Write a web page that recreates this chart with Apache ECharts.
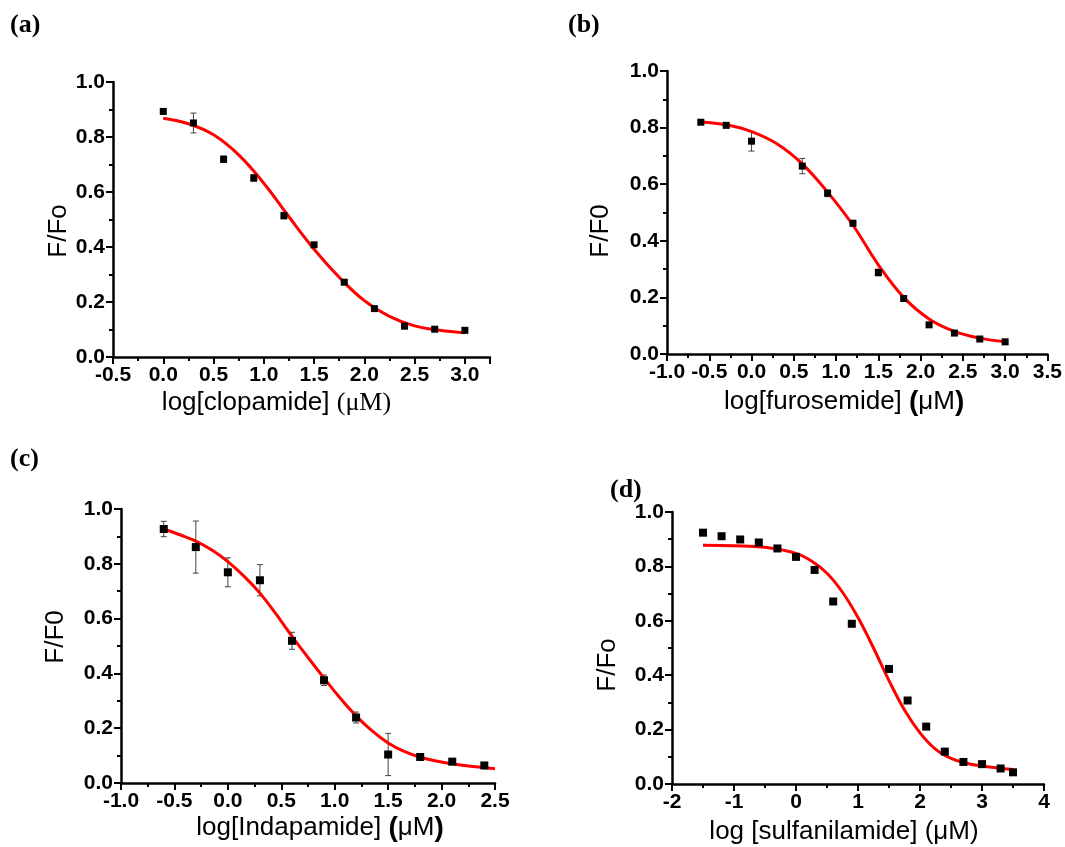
<!DOCTYPE html>
<html>
<head>
<meta charset="utf-8">
<title>F/F0 dose-response curves</title>
<script src="https://cdn.jsdelivr.net/npm/echarts@6/dist/echarts.min.js"></script>
<style>
  html, body { margin: 0; padding: 0; background: #fff; }
  #chart { width: 1065px; height: 847px; }
</style>
</head>
<body>
<div id="chart"></div>
<script>
// (a) clopamide
const clopX = [0, 0.3, 0.6, 0.9, 1.2, 1.5, 1.8, 2.1, 2.4, 2.7, 3.0];
const clopY = [0.893, 0.851, 0.719, 0.651, 0.514, 0.408, 0.272, 0.176, 0.112, 0.101, 0.097];
const clopErr = [0.008, 0.036, 0.012, 0.012, 0.012, 0.008, 0.006, 0.006, 0.005, 0.005, 0.005];
const clopFitX = [0, 0.25, 0.5, 0.75, 1.0, 1.25, 1.5, 1.75, 2.0, 2.25, 2.5, 2.75, 3.0];
const clopFitY = [0.868, 0.848, 0.808, 0.735, 0.632, 0.51, 0.392, 0.29, 0.205, 0.148, 0.113, 0.097, 0.088];

// (b) furosemide
const furoX = [-0.6, -0.3, 0, 0.6, 0.9, 1.2, 1.5, 1.8, 2.1, 2.4, 2.7, 3.0];
const furoY = [0.819, 0.808, 0.752, 0.664, 0.568, 0.462, 0.288, 0.196, 0.103, 0.074, 0.053, 0.043];
const furoErr = [0.006, 0.008, 0.035, 0.027, 0.012, 0.01, 0.012, 0.008, 0.006, 0.006, 0.005, 0.005];
const furoFitX = [-0.6, -0.3, 0, 0.3, 0.6, 0.9, 1.2, 1.5, 1.8, 2.1, 2.4, 2.7, 3.0];
const furoFitY = [0.82, 0.81, 0.786, 0.743, 0.672, 0.572, 0.455, 0.315, 0.2, 0.124, 0.08, 0.056, 0.043];

// (c) indapamide
const indaX = [-0.6, -0.3, 0, 0.3, 0.6, 0.9, 1.2, 1.5, 1.8, 2.1, 2.4];
const indaY = [0.927, 0.861, 0.769, 0.74, 0.519, 0.375, 0.239, 0.104, 0.095, 0.078, 0.064];
const indaErr = [0.028, 0.095, 0.053, 0.057, 0.031, 0.019, 0.02, 0.077, 0.008, 0.006, 0.005];
const indaFitX = [-0.6, -0.45, -0.3, -0.15, 0, 0.15, 0.3, 0.45, 0.6, 0.75, 0.9, 1.05, 1.2, 1.35, 1.5, 1.65, 1.8, 1.95, 2.1, 2.25, 2.4, 2.5];
const indaFitY = [0.927, 0.906, 0.883, 0.85, 0.808, 0.755, 0.693, 0.617, 0.535, 0.458, 0.383, 0.31, 0.245, 0.19, 0.146, 0.115, 0.094, 0.08, 0.07, 0.062, 0.056, 0.052];

// (d) sulfanilamide
const sulfX = [-1.5, -1.2, -0.9, -0.6, -0.3, 0, 0.3, 0.6, 0.9, 1.5, 1.8, 2.1, 2.4, 2.7, 3.0, 3.3, 3.5];
const sulfY = [0.924, 0.911, 0.899, 0.888, 0.866, 0.835, 0.787, 0.671, 0.589, 0.423, 0.307, 0.211, 0.119, 0.081, 0.073, 0.057, 0.043];
const sulfFitX = [-1.5, -1.0, -0.5, 0, 0.25, 0.5, 0.75, 1.0, 1.25, 1.5, 1.75, 2.0, 2.25, 2.5, 2.75, 3.0, 3.25, 3.5];
const sulfFitY = [0.878, 0.876, 0.87, 0.848, 0.82, 0.775, 0.705, 0.612, 0.5, 0.38, 0.272, 0.188, 0.128, 0.094, 0.076, 0.066, 0.059, 0.053];

const yTicks = ['0.0', '0.2', '0.4', '0.6', '0.8', '1.0'];

const chart = echarts.init(document.getElementById('chart'));

function pairs(xs, ys) { return xs.map((x, i) => [x, ys[i]]); }
function bars(xs, ys, es) { return xs.map((x, i) => [x, ys[i] - es[i], ys[i] + es[i]]); }

const sans = 'Liberation Sans';
const axisLine = { show: true, onZero: false, lineStyle: { color: '#000', width: 2.5 } };
const axisTick = { show: true, length: 7, lineStyle: { color: '#000', width: 2 } };
const minorTick = { show: true, splitNumber: 2, length: 4, lineStyle: { color: '#000', width: 2 } };

// half-step labels, hide the extra end tick
function halfFmt(v) {
    return Math.abs(v * 2 - Math.round(v * 2)) < 1e-6 ? v.toFixed(1) : '';
}

function xAxis(i, min, max, interval, fmt, name, nameGap, pad, rich) {
    return {
        gridIndex: i, type: 'value', min: min, max: max, interval: interval,
        axisLine: axisLine, axisTick: axisTick, minorTick: minorTick,
        splitLine: { show: false }, minorSplitLine: { show: false },
        axisLabel: { color: '#000', fontWeight: 'bold', fontSize: 21, fontFamily: sans, margin: 8, formatter: fmt },
        name: name, nameLocation: 'middle', nameGap: nameGap,
        nameTextStyle: { color: '#000', fontSize: 26, fontFamily: sans, padding: pad, rich: rich }
    };
}

function yAxis(i, name, nameGap, pad) {
    return {
        gridIndex: i, type: 'value', min: 0, max: 1, interval: 0.2,
        axisLine: axisLine, axisTick: axisTick, minorTick: minorTick,
        splitLine: { show: false }, minorSplitLine: { show: false },
        axisLabel: { color: '#000', fontWeight: 'bold', fontSize: 21, fontFamily: sans, margin: 8,
            formatter: v => yTicks[Math.round(v * 5)] },
        name: name, nameLocation: 'middle', nameGap: nameGap,
        nameTextStyle: { color: '#000', fontSize: 26, fontFamily: sans, padding: pad }
    };
}

const richName = {
    s: { fontSize: 26, fontFamily: sans, color: '#000' },
    t: { fontSize: 26, fontFamily: 'Liberation Serif', color: '#000' },
    p: { fontSize: 28, fontFamily: sans, fontWeight: 'bold', color: '#000' }
};

function dots(i, xs, ys, size) {
    return { type: 'scatter', xAxisIndex: i, yAxisIndex: i, data: pairs(xs, ys),
        symbol: 'rect', symbolSize: size, itemStyle: { color: '#000', opacity: 1 }, z: 4 };
}
function fit(i, xs, ys) {
    return { type: 'line', xAxisIndex: i, yAxisIndex: i, data: pairs(xs, ys), smooth: 0.4,
        showSymbol: false, symbol: 'none', lineStyle: { color: '#ff0000', width: 3 }, z: 3 };
}
function errs(i, xs, ys, es) {
    return {
        type: 'custom', xAxisIndex: i, yAxisIndex: i, data: bars(xs, ys, es), z: 2,
        encode: { x: 0, y: [1, 2] },
        renderItem: function (params, api) {
            const lo = api.coord([api.value(0), api.value(1)]);
            const hi = api.coord([api.value(0), api.value(2)]);
            const w = 3;
            const st = { stroke: '#444', lineWidth: 1 };
            return { type: 'group', children: [
                { type: 'line', shape: { x1: lo[0], y1: lo[1], x2: hi[0], y2: hi[1] }, style: st },
                { type: 'line', shape: { x1: hi[0] - w, y1: hi[1], x2: hi[0] + w, y2: hi[1] }, style: st },
                { type: 'line', shape: { x1: lo[0] - w, y1: lo[1], x2: lo[0] + w, y2: lo[1] }, style: st }
            ] };
        }
    };
}

function tag(text, left, top) {
    return { type: 'text', left: left, top: top,
        style: { text: text, font: 'bold 26px "Liberation Serif"', fill: '#000' } };
}

chart.setOption({
    animation: false,
    backgroundColor: '#fff',
    grid: [
        { left: 113, top: 82, width: 377, height: 275 },
        { left: 667, top: 71, width: 381, height: 283 },
        { left: 121, top: 509, width: 374, height: 274 },
        { left: 672, top: 512, width: 372, height: 272 }
    ],
    xAxis: [
        xAxis(0, -0.5, 3.25, 0.5, halfFmt, '{s|log[clopamide] }{t|(μM)}', 33, [0, 50, 0, 0], richName),
        xAxis(1, -1, 3.5, 0.5, halfFmt, '{s|log[furosemide] }{p|(}{s|μM}{p|)}', 34, [0, 26, 0, 0], richName),
        xAxis(2, -1, 2.5, 0.5, halfFmt, '{s|log[Indapamide] }{p|(}{s|μM}{p|)}', 31, [0, 0, 0, 24], richName),
        xAxis(3, -2, 4, 1, v => String(v), '{s|log [sulfanilamide] (μM)}', 35, [0, 28, 0, 0], richName)
    ],
    yAxis: [
        yAxis(0, 'F/Fo', 40, [0, 23, 0, 0]),
        yAxis(1, 'F/F0', 53, [0, 37, 0, 0]),
        yAxis(2, 'F/F0', 52, [0, 0, 0, 18]),
        yAxis(3, 'F/Fo', 51, [0, 34, 0, 0])
    ],
    graphic: [
        tag('(a)', 10, 12),
        tag('(b)', 568, 12),
        tag('(c)', 10, 446),
        tag('(d)', 610, 477)
    ],
    series: [
        errs(0, clopX, clopY, clopErr), fit(0, clopFitX, clopFitY), dots(0, clopX, clopY, 7),
        errs(1, furoX, furoY, furoErr), fit(1, furoFitX, furoFitY), dots(1, furoX, furoY, 7),
        errs(2, indaX, indaY, indaErr), fit(2, indaFitX, indaFitY), dots(2, indaX, indaY, 8),
        fit(3, sulfFitX, sulfFitY), dots(3, sulfX, sulfY, 8)
    ]
});

window.addEventListener('resize', () => {
    chart.resize();
});
</script>
</body>
</html>
